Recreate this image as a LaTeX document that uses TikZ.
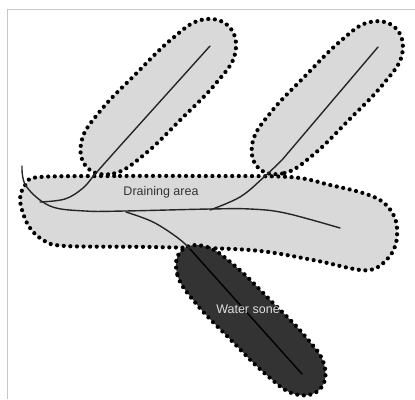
\documentclass[tikz,border=0pt]{standalone}
\usepackage{fontspec}
\setmainfont{Liberation Sans}
\newcommand\zone[6]{%
  \begin{scope}[shift={(#1,#2)}, rotate=#3]
    \path[#6] plot[smooth cycle, tension=0.7] coordinates {({-#4},0) ({-0.85*#4},{0.72*#5}) ({-0.5*#4},{0.97*#5}) (0,#5) ({0.5*#4},{0.98*#5}) ({0.85*#4},{0.75*#5}) (#4,0) ({0.85*#4},{-0.75*#5}) ({0.5*#4},{-0.98*#5}) (0,{-#5}) ({-0.5*#4},{-0.97*#5}) ({-0.85*#4},{-0.72*#5})};
  \end{scope}}
\begin{document}
\begin{tikzpicture}[x=1pt,y=-1pt,
  dots/.style={draw=black, line width=4.2pt, line cap=round, dash pattern=on 0pt off 6.6pt},
  lightzone/.style={fill=gray!30},
  darkzone/.style={fill=black!80},
  river/.style={draw=black!85, line width=1.4pt, line cap=round},
  lbl/.style={font=\fontsize{12.5}{14}\selectfont, inner sep=0pt}]
\useasboundingbox (0,0) rectangle (415,399);
\fill[white] (0,0) rectangle (415,399);
\draw[gray!45, line width=1pt] (7,399) -- (7,9) -- (415,9);

% upper lobes
\zone{158}{97}{45}{100}{32}{lightzone, dots}
\zone{327}{98}{45.5}{98}{31}{lightzone, dots}

% draining band
\path[lightzone, dots] plot[smooth cycle, tension=0.55] coordinates {(40,177) (120,176) (200,176) (290,177) (330,185) (363,193) (383,202) (395,218) (397,237) (392,253) (378,267) (360,270) (313,260) (250,250) (150,247) (65,246) (43,240) (28,225) (20,200) (26,184)};

% water zone
\zone{250.5}{320}{-45.2}{98}{28}{darkzone, dots}

% rivers
\coordinate (src) at (22,166);
\coordinate (mouth) at (340,228);
\coordinate (ulend) at (210,46);
\coordinate (urend) at (378,47);
\coordinate (wjoin) at (190,249);
\coordinate (wend) at (302,374);
\draw[river] plot[smooth, tension=0.6] coordinates {(src) (26,186) (50,206) (85,211) (125,211) (210,209) (250,209) (285,213) (mouth)};
\draw[river] plot[smooth, tension=0.6] coordinates {(40,202) (65,199) (83,188) (96,173) (120,146)} -- (ulend);
\draw[river] plot[smooth, tension=0.6] coordinates {(210,210) (240,197) (263,178) (282,160)} -- (urend);
\draw[river] plot[smooth, tension=0.6] coordinates {(126,212) (153,222) (178,238) (wjoin)};
\draw[river, draw=black] (wjoin) -- (wend);

% labels
\node[lbl, text=black!80] (drain) at (161,192) {Draining area};
\node[lbl, text=gray!25] (water) at (248,309) {Water sone};
\end{tikzpicture}
\end{document}
